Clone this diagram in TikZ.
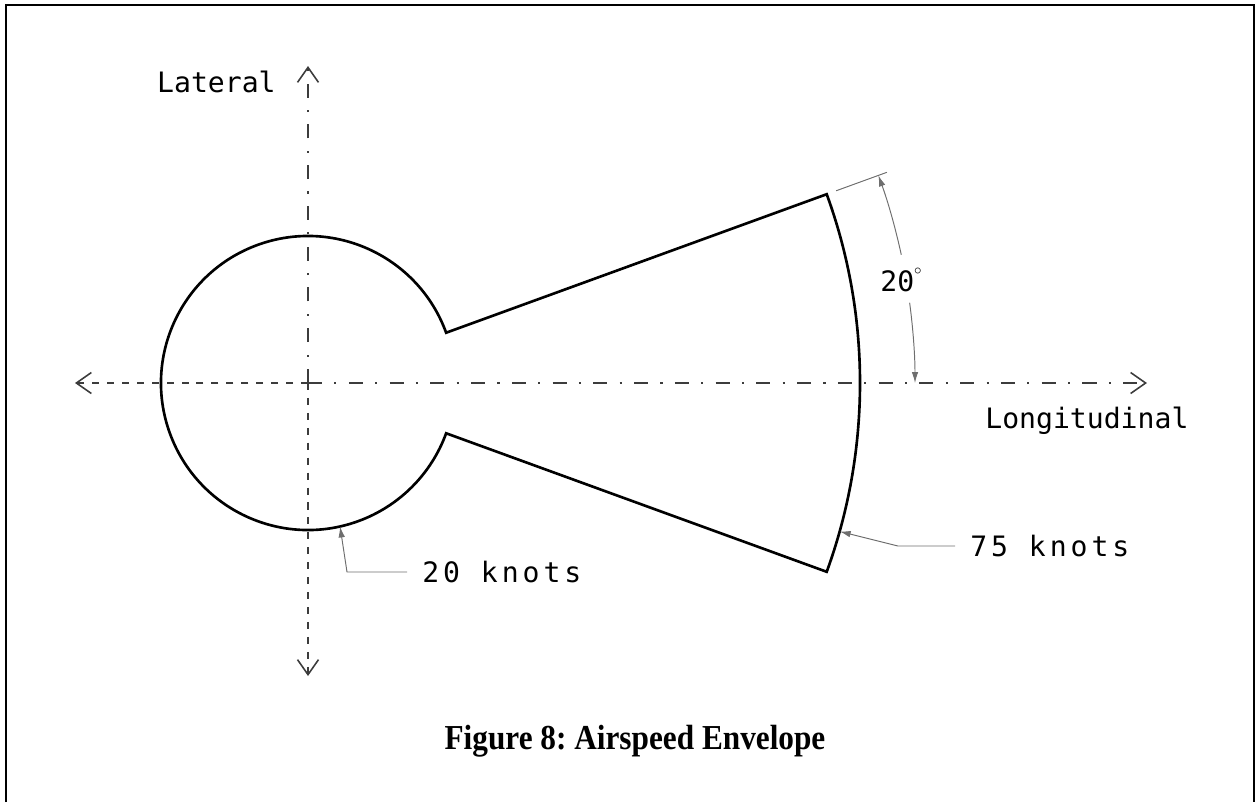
\documentclass[tikz,border=0pt]{standalone}
\usepackage{fontspec}
\setmainfont{Liberation Serif}
\newfontfamily\plotfont{DejaVu Sans Mono}
\usetikzlibrary{arrows.meta, calc}
\frenchspacing
\definecolor{axisGray}{RGB}{60, 60, 60}
\definecolor{leaderGray}{RGB}{110, 110, 110}
\tikzset{
  framerule/.style={line width=1.5pt, black},
  envline/.style={line width=1.5pt, black},
  axisline/.style={line width=0.9pt, axisGray},
  axisdash/.style={axisline, dash pattern=on 4pt off 4.5pt},
  axisdashdot/.style={axisline, dash pattern=on 8pt off 7pt on 1.2pt off 7pt},
  axistip/.style={-{Straight Barb[length=3mm, width=4.2mm]}},
  leaderline/.style={line width=0.55pt, leaderGray},
  leadtip/.style={-{Latex[length=2.2mm, width=1.3mm]}},
  plotlabel/.style={font=\plotfont\fontsize{16}{18}\selectfont, inner sep=0pt},
  spacedlabel/.style={font=\plotfont\fontsize{16}{18}\selectfont\addfontfeature{LetterSpace=14}, inner xsep=8.5pt, inner ysep=0pt},
  caption/.style={font=\fontsize{17.8}{20}\selectfont\bfseries, inner sep=0pt, transform shape, yscale=1.12},
}
\begin{document}
\begin{tikzpicture}[x=0.02cm, y=0.02cm]
  \useasboundingbox (0,0) rectangle (1258,-802);
  % frame
  \draw[framerule] (6,-802) -- (6,-5) -- (1254,-5) -- (1254,-802);

  \coordinate (centre) at (308,-383);
  \coordinate (westEnd) at (75,-383);
  \coordinate (eastEnd) at (1147,-383);
  \coordinate (northEnd) at (308,-66);
  \coordinate (southEnd) at (308,-676);

  % axes
  \draw[axisdash, axistip] (centre) -- (westEnd);
  \draw[axisdashdot, axistip] (centre) -- (eastEnd);
  \draw[axisdashdot, axistip] (centre) -- (northEnd);
  \draw[axisdash, axistip] (centre) -- (southEnd);
  \node[plotlabel, anchor=base east] (lateralLabel) at (276,-92) {Lateral};
  \node[plotlabel, anchor=base west] (longLabel) at (985,-428) {Longitudinal};

  % envelope: 20 knot circle and 75 knot sector
  \draw[envline] ($(centre)+(20:147)$) arc[start angle=20, end angle=340, radius=147]
    -- ($(centre)+(-20:552)$) arc[start angle=-20, end angle=20, radius=552] -- cycle;

  % 20 degree dimension
  \coordinate (extIn) at ($(centre)+(20:562)$);
  \coordinate (extOut) at ($(centre)+(20:616)$);
  \draw[leaderline] (extIn) -- (extOut);
  \node[plotlabel, anchor=base west] (angleLabel) at (880,-291) {20\raisebox{1.1ex}{$\scriptscriptstyle\circ$}};
  \draw[leaderline, leadtip] ($(centre)+(12.2:607)$) arc[start angle=12.2, end angle=20, radius=607];
  \draw[leaderline, leadtip] ($(centre)+(7.6:607)$) arc[start angle=7.6, end angle=0, radius=607];

  % speed callouts
  \coordinate (slowTip) at ($(centre)+(-77.4:147)$);
  \coordinate (slowBend) at (347,-572);
  \node[spacedlabel, anchor=west] (slowLabel) at (407,-572) {20 knots};
  \draw[leaderline, leadtip] (slowLabel.west) -- (slowBend) -- (slowTip);

  \coordinate (fastTip) at ($(centre)+(-15.6:552)$);
  \coordinate (fastBend) at (898,-546);
  \node[spacedlabel, anchor=west] (fastLabel) at (955,-546) {75 knots};
  \draw[leaderline, leadtip] (fastLabel.west) -- (fastBend) -- (fastTip);

  \node[caption] (figCaption) at (635,-741) {Figure 8: Airspeed Envelope};
\end{tikzpicture}
\end{document}
